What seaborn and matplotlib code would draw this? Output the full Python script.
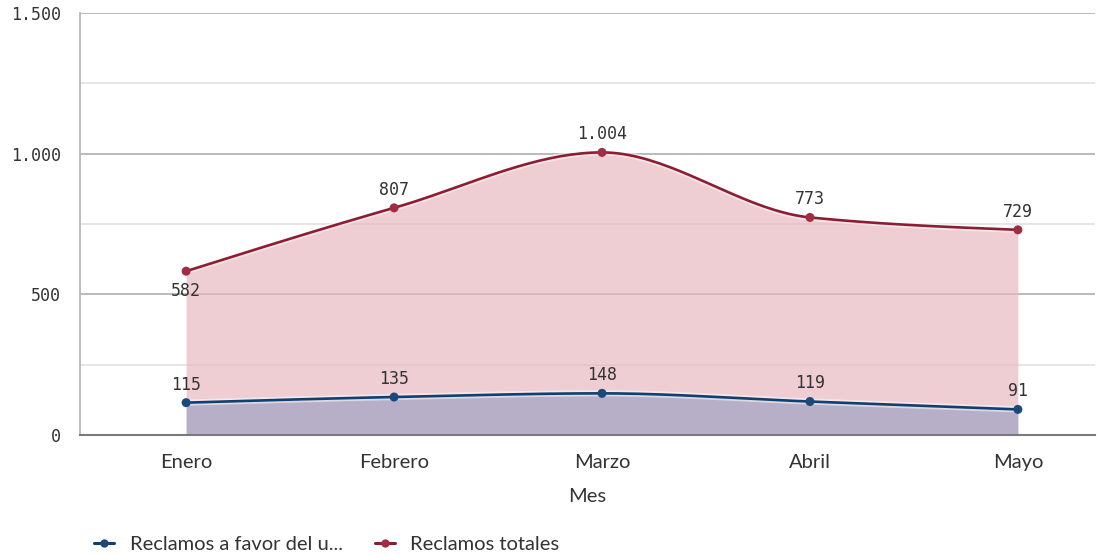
import numpy as np
import pandas as pd
import matplotlib
matplotlib.use("Agg")
import matplotlib.pyplot as plt
import matplotlib.patheffects as pe
from matplotlib.lines import Line2D
from matplotlib.ticker import FuncFormatter, MultipleLocator
import seaborn as sns

# data
months = ["Enero", "Febrero", "Marzo", "Abril", "Mayo"]
favor_usuario = [115, 135, 148, 119, 91]
totales = [582, 807, 1004, 773, 729]
series_names = ["Reclamos a favor del u...", "Reclamos totales"]

line_colors = ["#10406F", "#8E1D33"]
marker_colors = ["#1A4A7A", "#A02E42"]
fill_colors = ["#8193BC", "#E8B8C1"]
fill_alpha = [0.5, 0.7]


def monotone_curve(values, steps=40):
    """Monotone cubic (Fritsch-Carlson style) curve through the points."""
    y = np.asarray(values, dtype=float)
    n = len(y)
    d = np.diff(y)
    m = np.zeros(n)
    for i in range(1, n - 1):
        if d[i - 1] * d[i] > 0:
            m[i] = 2.0 / (1.0 / d[i - 1] + 1.0 / d[i])
    m[0] = (3 * d[0] - m[1]) / 2
    m[-1] = (3 * d[-1] - m[-2]) / 2
    xs, ys = [], []
    for i in range(n - 1):
        t = np.linspace(0, 1, steps, endpoint=(i == n - 2))
        h00 = 2 * t**3 - 3 * t**2 + 1
        h10 = t**3 - 2 * t**2 + t
        h01 = -2 * t**3 + 3 * t**2
        h11 = t**3 - t**2
        xs.append(i + t)
        ys.append(h00 * y[i] + h10 * m[i] + h01 * y[i + 1] + h11 * m[i + 1])
    return np.concatenate(xs), np.concatenate(ys)


def thousands(v, pos=None):
    return f"{int(round(v)):,}".replace(",", ".")


sns.set_style("white")
plt.rcParams["font.family"] = ["Lato", "DejaVu Sans"]
mono = "DejaVu Sans Mono"

df = pd.DataFrame({
    "Mes": months * 2,
    "pos": list(range(len(months))) * 2,
    "Serie": [series_names[0]] * len(months) + [series_names[1]] * len(months),
    "Valor": favor_usuario + totales,
})

fig = plt.figure(figsize=(10.97, 5.56), dpi=100)
ax = fig.add_axes([0.073, 0.2176, 0.925, 0.7594])

# areas: totals first, then the smaller series on top
order = [1, 0]
for k in order:
    vals = totales if k == 1 else favor_usuario
    xs, ys = monotone_curve(vals)
    ax.fill_between(xs, 0, ys, color=fill_colors[k], alpha=fill_alpha[k],
                    linewidth=0, zorder=2)
for k in order:
    vals = totales if k == 1 else favor_usuario
    xs, ys = monotone_curve(vals)
    ax.plot(xs, ys, color=line_colors[k], linewidth=1.9, zorder=4,
            solid_capstyle="round",
            path_effects=[pe.Stroke(linewidth=4.5, foreground="white", alpha=0.5),
                          pe.Normal()])

sns.scatterplot(data=df, x="pos", y="Valor", hue="Serie",
                palette=dict(zip(series_names, marker_colors)),
                s=42, edgecolor="none", legend=False, zorder=5, ax=ax)

# value labels
for k, vals in enumerate([favor_usuario, totales]):
    for i, v in enumerate(vals):
        below = (k == 1 and i == 0)
        ax.annotate(thousands(v), (i, v), xytext=(0, -14 if below else 13),
                    textcoords="offset points", ha="center", va="center",
                    fontsize=12, family=mono, color="#333333", zorder=6)

ax.set_xlim(-0.51, 4.37)
ax.set_ylim(0, 1500)
ax.set_xticks(range(len(months)))
ax.set_xticklabels(months)
ax.yaxis.set_major_locator(MultipleLocator(500))
ax.yaxis.set_minor_locator(MultipleLocator(250))
ax.yaxis.set_major_formatter(FuncFormatter(thousands))

ax.grid(which="major", axis="y", color="#B4B4B4", linewidth=1.3, zorder=1)
ax.grid(which="minor", axis="y", color="#E2E2E2", linewidth=1.2, zorder=1)
ax.set_axisbelow(True)

for side in ["top", "right"]:
    ax.spines[side].set_visible(False)
ax.spines["left"].set_color("#B8B8B8")
ax.spines["left"].set_linewidth(1.3)
ax.spines["bottom"].set_color("#7A7A7A")
ax.spines["bottom"].set_linewidth(1.5)
ax.spines["bottom"].set_zorder(7)

ax.tick_params(axis="y", which="major", length=9, width=2, color="#CFCFCF",
               pad=5, labelsize=12, labelcolor="#333333")
ax.tick_params(axis="y", which="minor", length=0)
ax.tick_params(axis="x", length=0, pad=14, labelsize=14.5, labelcolor="#333333")
for lbl in ax.get_yticklabels():
    lbl.set_family(mono)

ax.set_xlabel("Mes", fontsize=14.5, color="#333333", labelpad=12)
ax.set_ylabel("")

handles = [Line2D([0], [0], color=line_colors[k], linewidth=2.2, marker="o",
                  markersize=6, markerfacecolor=marker_colors[k],
                  markeredgecolor="none") for k in range(2)]
fig.legend(handles, series_names, loc="center left",
           bbox_to_anchor=(0.086, 0.02), ncol=2, frameon=False, fontsize=14.5,
           handlelength=1.0, handletextpad=0.75, columnspacing=1.6,
           borderpad=0, borderaxespad=0, labelcolor="#333333")

fig.savefig("out.png", dpi=100)
